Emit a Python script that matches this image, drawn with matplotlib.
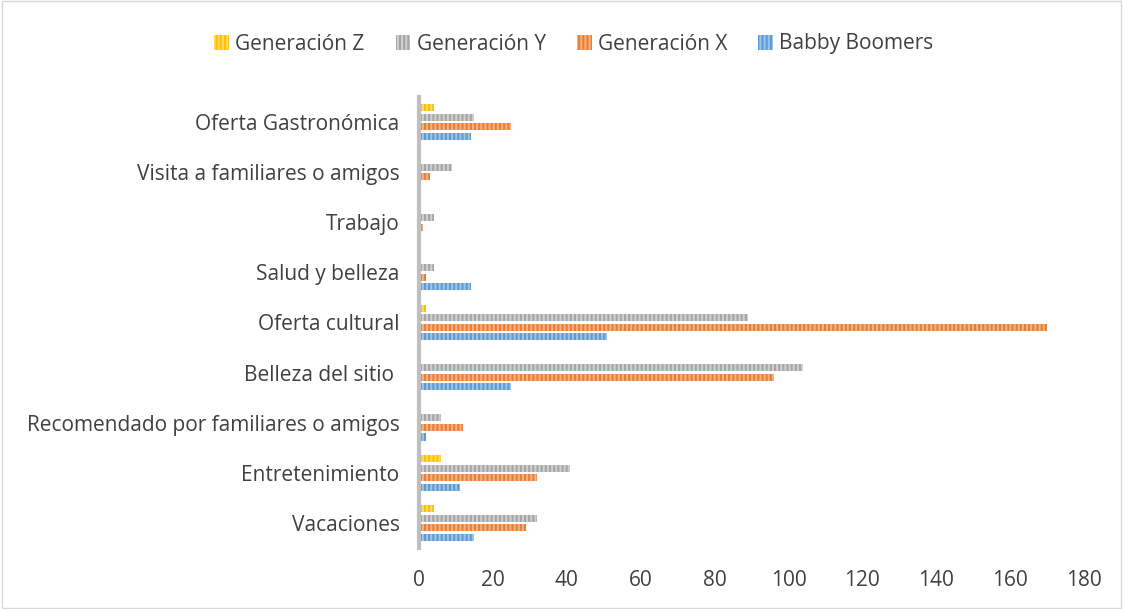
import matplotlib.pyplot as plt
import numpy as np

# Categories from bottom to top
categories = [
    "Vacaciones",
    "Entretenimiento",
    "Recomendado por familiares o amigos",
    "Belleza del sitio ",
    "Oferta cultural",
    "Salud y belleza",
    "Trabajo",
    "Visita a familiares o amigos",
    "Oferta Gastronómica",
]
series_names = ["Generación Z", "Generación Y", "Generación X", "Babby Boomers"]
gen_z = [4, 6, 0, 0, 2, 0, 0, 0, 4]
gen_y = [32, 41, 6, 104, 89, 4, 4, 9, 15]
gen_x = [29, 32, 12, 96, 170, 2, 1, 3, 25]
boomers = [15, 11, 2, 25, 51, 14, 0, 0, 14]
xticks = [0, 20, 40, 60, 80, 100, 120, 140, 160, 180]

colors = ["#FFC000", "#A5A5A5", "#ED7D31", "#5B9BD5"]
hatch_colors = ["#FFD966", "#CFCFCF", "#F4B183", "#9DC3E6"]

plt.rcParams["font.family"] = ["Open Sans", "DejaVu Sans"]
plt.rcParams["hatch.linewidth"] = 1.5

fig = plt.figure(figsize=(11.23, 6.09), dpi=100)
ax = fig.add_axes([419 / 1123, 1 - 548 / 609, (1084 - 419) / 1123, (548 - 97) / 609])

y = np.arange(len(categories))
pitch = 0.19
height = 0.14
all_series = [gen_z, gen_y, gen_x, boomers]
handles = []
for i, (vals, name) in enumerate(zip(all_series, series_names)):
    offset = (1.5 - i) * pitch
    h = ax.barh(y + offset, vals, height=height, color=colors[i],
                edgecolor=hatch_colors[i], linewidth=0, hatch="||||", label=name)
    handles.append(h)

ax.set_xlim(0, 180)
ax.set_ylim(-0.5, 8.5)
ax.set_yticks(y)
ax.set_yticklabels(categories, fontsize=15, color="#404040")
ax.set_xticks(xticks)
ax.set_xticklabels([str(t) for t in xticks], fontsize=15, color="#404040")
ax.tick_params(axis="x", length=0, pad=16)
ax.tick_params(axis="y", length=0, pad=14)

for s in ["top", "right", "bottom"]:
    ax.spines[s].set_visible(False)
ax.spines["left"].set_color("#BFBFBF")
ax.spines["left"].set_linewidth(3)

fig.legend(handles=handles, labels=series_names, loc="center", ncol=4,
           bbox_to_anchor=(574 / 1123, 1 - 44 / 609), frameon=False, fontsize=15,
           handlelength=0.7, handleheight=0.7, handletextpad=0.3, columnspacing=1.5,
           labelcolor="#404040")

# figure border
fig.patches.append(plt.Rectangle((0.002, 0.002), 0.996, 0.996, transform=fig.transFigure,
                                 fill=False, edgecolor="#D9D9D9", linewidth=1))

fig.savefig("out.png", dpi=100)
